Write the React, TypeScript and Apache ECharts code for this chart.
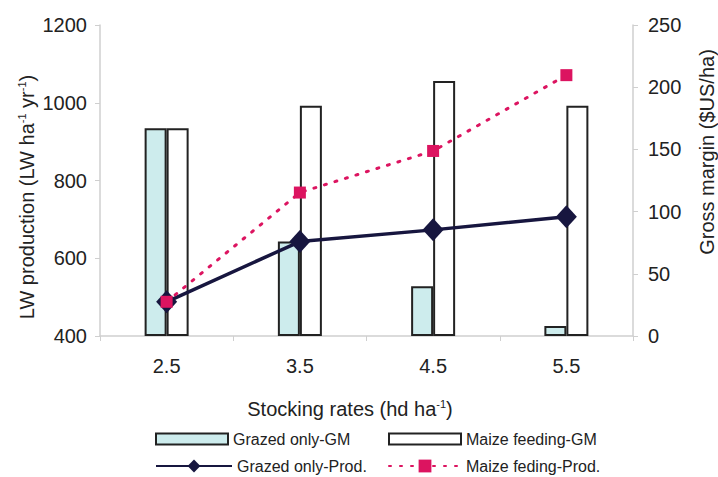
import React, { useEffect, useRef } from "react";
import * as echarts from "echarts";

const categories = ["2.5", "3.5", "4.5", "5.5"];
const grazedGM = [167, 76, 40, 8];
const maizeGM = [167, 185, 205, 185];
const grazedProd = [488, 643, 673, 707];
const maizeProd = [488, 769, 876, 1071];
const leftTicks = { min: 400, max: 1200, interval: 200 };
const rightTicks = { min: 0, max: 250, interval: 50 };

const FONT = "Liberation Sans";
const TXT = "#222";
const AXIS = "#cfcfcf";

export default function App() {
  const ref = useRef<HTMLDivElement>(null);
  useEffect(() => {
    if (!ref.current) return;
    const chart = echarts.init(ref.current, null, { renderer: "svg" });
    const legendText = { fontFamily: FONT, fontSize: 16, color: TXT };
    chart.setOption({
      animation: false,
      backgroundColor: "#fff",
      textStyle: { fontFamily: FONT },
      grid: { left: 100, right: 85, top: 25, bottom: 141 },
      xAxis: {
        type: "category",
        data: categories,
        boundaryGap: true,
        axisLine: { show: true, lineStyle: { color: AXIS, width: 1.5 } },
        axisTick: { show: true, length: 5, lineStyle: { color: AXIS } },
        axisLabel: { fontFamily: FONT, fontSize: 20, color: TXT, margin: 20 },
      },
      yAxis: [
        {
          type: "value",
          ...leftTicks,
          position: "left",
          splitLine: { show: false },
          axisLine: { show: true, lineStyle: { color: AXIS, width: 1.5 } },
          axisTick: { show: true, length: 5, lineStyle: { color: AXIS } },
          axisLabel: {
            fontFamily: FONT, fontSize: 20, color: TXT, margin: 13,
            formatter: (v: number) => String(v),
          },
        },
        {
          type: "value",
          ...rightTicks,
          position: "right",
          splitLine: { show: false },
          axisLine: { show: true, lineStyle: { color: AXIS, width: 1.5 } },
          axisTick: { show: true, length: 5, lineStyle: { color: AXIS } },
          axisLabel: {
            fontFamily: FONT, fontSize: 20, color: TXT, margin: 15,
            formatter: (v: number) => String(v),
          },
        },
      ],
      legend: [
        {
          data: [{ name: "Grazed only-GM", icon: "rect" }],
          left: 155, top: 431, padding: 0, itemWidth: 72, itemHeight: 11, itemGap: 0,
          textStyle: legendText, selectedMode: false,
        },
        {
          data: [{ name: "Maize feeding-GM", icon: "rect" }],
          left: 388, top: 431, padding: 0, itemWidth: 72, itemHeight: 11, itemGap: 0,
          textStyle: legendText, selectedMode: false,
        },
        {
          data: ["Grazed only-Prod."],
          left: 155, top: 458, padding: 0, itemWidth: 76, itemHeight: 16, itemGap: 0,
          textStyle: legendText, selectedMode: false,
        },
        {
          data: ["Maize feding-Prod."],
          left: 388, top: 458, padding: 0, itemWidth: 72, itemHeight: 16, itemGap: 0,
          textStyle: legendText, selectedMode: false,
        },
      ],
      graphic: [
        {
          type: "text",
          x: 27,
          y: 197,
          rotation: Math.PI / 2,
          style: {
            text: "LW production (LW ha{sup|-1} yr{sup|-1})",
            fontFamily: FONT,
            fontSize: 20,
            fill: TXT,
            align: "center",
            verticalAlign: "middle",
            rich: { sup: { fontSize: 11, fontFamily: FONT, fill: TXT, padding: [0, 0, 10, 0] } },
          },
        },
        {
          type: "text",
          x: 707,
          y: 152,
          rotation: Math.PI / 2,
          style: {
            text: "Gross margin ($US/ha)",
            fontFamily: FONT,
            fontSize: 20,
            fill: TXT,
            align: "center",
            verticalAlign: "middle",
          },
        },
        {
          type: "text",
          x: 350,
          y: 409,
          style: {
            text: "Stocking rates (hd ha{sup|-1})",
            fontFamily: FONT,
            fontSize: 20,
            fill: TXT,
            align: "center",
            verticalAlign: "middle",
            rich: { sup: { fontSize: 11, fontFamily: FONT, fill: TXT, padding: [0, 0, 10, 0] } },
          },
        },
      ],
      series: [
        {
          name: "Grazed only-GM",
          type: "bar",
          yAxisIndex: 1,
          data: grazedGM,
          barWidth: 22,
          barGap: "0%",
          itemStyle: { color: "#cdeced", borderColor: "#222", borderWidth: 2 },
        },
        {
          name: "Maize feeding-GM",
          type: "bar",
          yAxisIndex: 1,
          data: maizeGM,
          barWidth: 22,
          barGap: "0%",
          itemStyle: { color: "#ffffff", borderColor: "#222", borderWidth: 2 },
        },
        {
          name: "Grazed only-Prod.",
          type: "line",
          yAxisIndex: 0,
          data: grazedProd,
          symbol: "diamond",
          symbolSize: [21, 23],
          lineStyle: { color: "#17163f", width: 3.5 },
          itemStyle: { color: "#17163f" },
          z: 3,
        },
        {
          name: "Maize feding-Prod.",
          type: "line",
          yAxisIndex: 0,
          data: maizeProd,
          symbol: "rect",
          symbolSize: 12,
          lineStyle: { color: "#dc1460", width: 3, type: [2, 9], cap: "round" },
          itemStyle: { color: "#dc1460" },
          z: 4,
        },
      ],
    });
    return () => chart.dispose();
  }, []);
  return (
    <div
      ref={ref}
      style={{ position: "fixed", left: 0, top: 0, width: 718, height: 477 }}
    />
  );
}
